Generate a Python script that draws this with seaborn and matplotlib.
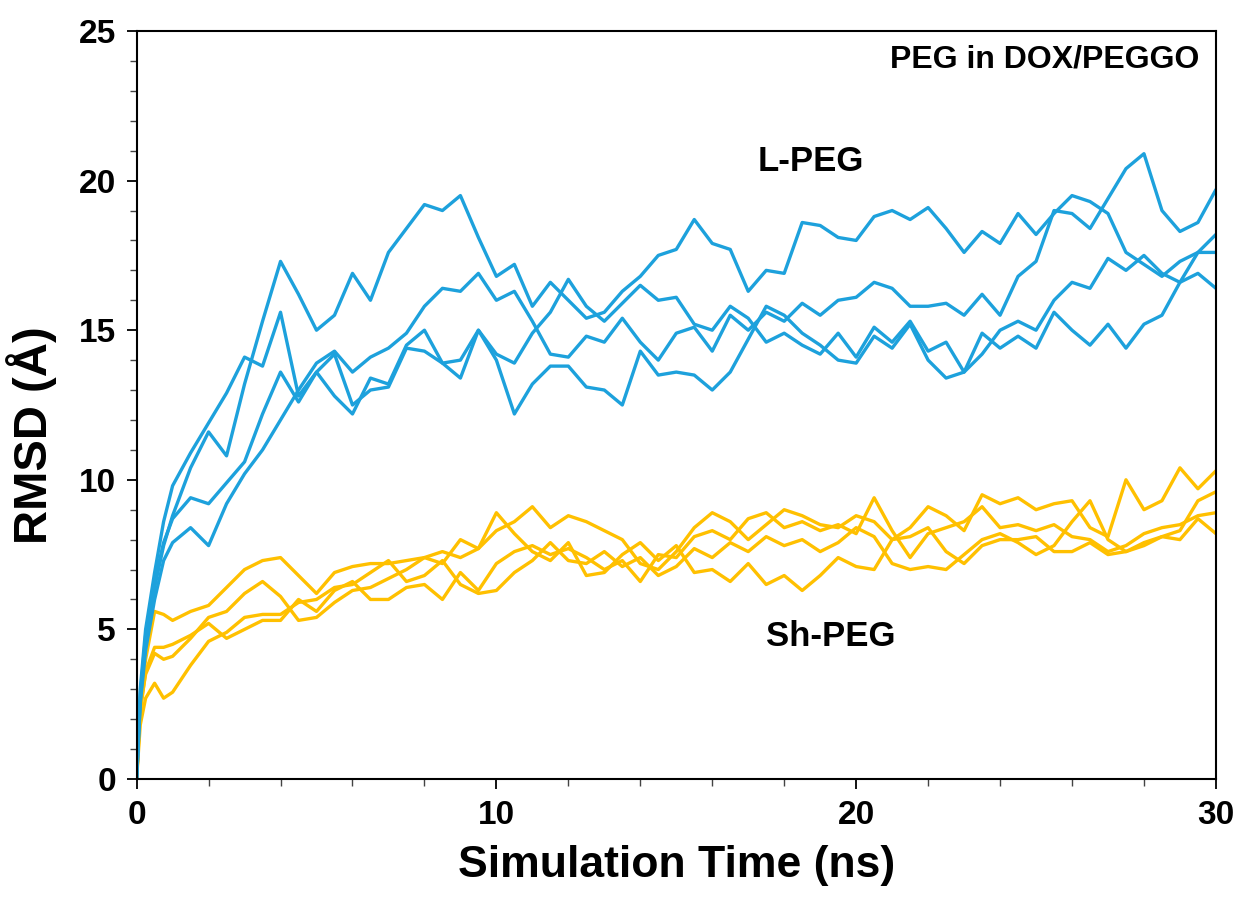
import matplotlib
matplotlib.use("Agg")
import matplotlib.pyplot as plt
from matplotlib.ticker import MultipleLocator
import numpy as np
import pandas as pd
import seaborn as sns

# ---- data -------------------------------------------------------------
time_ns = [0, 0.1, 0.25, 0.5, 0.75, 1.0,
           1.5, 2.0, 2.5, 3.0, 3.5, 4.0, 4.5, 5.0, 5.5, 6.0, 6.5, 7.0, 7.5, 8.0,
           8.5, 9.0, 9.5, 10.0, 10.5, 11.0, 11.5, 12.0, 12.5, 13.0, 13.5, 14.0,
           14.5, 15.0, 15.5, 16.0, 16.5, 17.0, 17.5, 18.0, 18.5, 19.0, 19.5, 20.0,
           20.5, 21.0, 21.5, 22.0, 22.5, 23.0, 23.5, 24.0, 24.5, 25.0, 25.5, 26.0,
           26.5, 27.0, 27.5, 28.0, 28.5, 29.0, 29.5, 30.0]

lpeg_1 = [0, 2.6, 4.6, 6.4, 7.8, 8.8,
          10.4, 11.6, 10.8, 13.2, 15.3, 17.3, 16.2, 15.0, 15.5, 16.9, 16.0, 17.6, 18.4, 19.2,
          19.0, 19.5, 18.1, 16.8, 17.2, 15.8, 16.6, 16.0, 15.4, 15.6, 16.3, 16.8,
          17.5, 17.7, 18.7, 17.9, 17.7, 16.3, 17.0, 16.9, 18.6, 18.5, 18.1, 18.0,
          18.8, 19.0, 18.7, 19.1, 18.4, 17.6, 18.3, 17.9, 18.9, 18.2, 18.9, 19.5,
          19.3, 18.9, 17.6, 17.2, 16.8, 17.3, 17.6, 18.2]
lpeg_2 = [0, 3.0, 5.0, 6.9, 8.6, 9.8,
          10.9, 11.9, 12.9, 14.1, 13.8, 15.6, 12.8, 13.6, 12.8, 12.2, 13.4, 13.2, 14.5, 15.0,
          13.9, 14.0, 15.0, 14.2, 13.9, 14.9, 15.6, 16.7, 15.8, 15.3, 15.9, 16.5,
          16.0, 16.1, 15.2, 15.0, 15.8, 15.4, 14.6, 14.9, 14.5, 14.2, 14.9, 14.1,
          15.1, 14.6, 15.3, 14.3, 14.6, 13.6, 14.9, 14.4, 14.8, 14.4, 15.6, 15.0,
          14.5, 15.2, 14.4, 15.2, 15.5, 16.6, 17.6, 17.6]
lpeg_3 = [0, 2.5, 4.3, 6.0, 7.3, 7.9,
          8.4, 7.8, 9.2, 10.2, 11.0, 12.0, 13.0, 13.9, 14.3, 13.6, 14.1, 14.4, 14.9, 15.8,
          16.4, 16.3, 16.9, 16.0, 16.3, 15.3, 14.2, 14.1, 14.8, 14.6, 15.4, 14.6,
          14.0, 14.9, 15.1, 14.3, 15.5, 15.0, 15.6, 15.3, 15.9, 15.5, 16.0, 16.1,
          16.6, 16.4, 15.8, 15.8, 15.9, 15.5, 16.2, 15.5, 16.8, 17.3, 19.0, 18.9,
          18.4, 19.4, 20.4, 20.9, 19.0, 18.3, 18.6, 19.7]
lpeg_4 = [0, 2.8, 4.8, 6.6, 7.9, 8.7,
          9.4, 9.2, 9.9, 10.6, 12.2, 13.6, 12.6, 13.6, 14.2, 12.5, 13.0, 13.1, 14.4, 14.3,
          13.9, 13.4, 15.0, 14.0, 12.2, 13.2, 13.8, 13.8, 13.1, 13.0, 12.5, 14.3,
          13.5, 13.6, 13.5, 13.0, 13.6, 14.7, 15.8, 15.5, 14.9, 14.5, 14.0, 13.9,
          14.8, 14.4, 15.2, 14.0, 13.4, 13.6, 14.2, 15.0, 15.3, 15.0, 16.0, 16.6,
          16.4, 17.4, 17.0, 17.5, 16.9, 16.6, 16.9, 16.4]

shpeg_1 = [0, 2.5, 4.0, 5.6, 5.5, 5.3,
           5.6, 5.8, 6.4, 7.0, 7.3, 7.4, 6.8, 6.2, 6.9, 7.1, 7.2, 7.2, 7.3, 7.4,
           7.6, 7.4, 7.7, 8.9, 8.2, 7.6, 7.3, 7.9, 6.8, 6.9, 7.5, 7.9,
           7.3, 7.8, 6.9, 7.0, 6.6, 7.2, 6.5, 6.8, 6.3, 6.8, 7.4, 7.1,
           7.0, 8.0, 8.1, 8.4, 7.6, 7.2, 7.8, 8.0, 8.0, 8.1, 7.6, 7.6,
           7.9, 7.5, 7.6, 7.9, 8.1, 8.0, 8.7, 8.2]
shpeg_2 = [0, 2.2, 3.6, 4.4, 4.4, 4.5,
           4.8, 5.2, 4.7, 5.0, 5.3, 5.3, 6.0, 5.6, 6.3, 6.6, 6.0, 6.0, 6.4, 6.5,
           6.0, 6.9, 6.3, 7.2, 7.6, 7.8, 7.5, 7.7, 7.4, 7.0, 7.3, 6.6,
           7.5, 7.4, 8.1, 8.3, 8.0, 8.7, 8.9, 8.4, 8.6, 8.3, 8.5, 8.2,
           9.4, 8.3, 7.4, 8.2, 8.4, 8.6, 9.1, 8.4, 8.5, 8.3, 8.5, 8.1,
           8.0, 7.6, 7.8, 8.2, 8.4, 8.5, 8.8, 8.9]
shpeg_3 = [0, 2.4, 3.5, 4.2, 4.0, 4.1,
           4.7, 5.4, 5.6, 6.2, 6.6, 6.1, 5.3, 5.4, 5.9, 6.3, 6.4, 6.7, 7.0, 7.4,
           7.2, 8.0, 7.7, 8.3, 8.6, 9.1, 8.4, 8.8, 8.6, 8.3, 8.0, 7.2,
           7.0, 7.6, 8.4, 8.9, 8.6, 8.0, 8.5, 9.0, 8.8, 8.5, 8.4, 8.8,
           8.6, 8.0, 8.4, 9.1, 8.8, 8.3, 9.5, 9.2, 9.4, 9.0, 9.2, 9.3,
           8.4, 8.1, 10.0, 9.0, 9.3, 10.4, 9.7, 10.3]
shpeg_4 = [0, 1.8, 2.7, 3.2, 2.7, 2.9,
           3.8, 4.6, 4.9, 5.4, 5.5, 5.5, 5.9, 6.0, 6.4, 6.5, 6.9, 7.3, 6.6, 6.8,
           7.3, 6.5, 6.2, 6.3, 6.9, 7.3, 7.9, 7.3, 7.2, 7.6, 7.1, 7.4,
           6.8, 7.1, 7.7, 7.4, 7.9, 7.6, 8.1, 7.8, 8.0, 7.6, 7.9, 8.4,
           8.1, 7.2, 7.0, 7.1, 7.0, 7.5, 8.0, 8.2, 7.9, 7.5, 7.8, 8.6,
           9.3, 8.0, 7.6, 7.8, 8.1, 8.3, 9.3, 9.6]

lpeg_runs = [lpeg_1, lpeg_2, lpeg_3, lpeg_4]
shpeg_runs = [shpeg_1, shpeg_2, shpeg_3, shpeg_4]

x_ticks = [0, 10, 20, 30]
y_ticks = [0, 5, 10, 15, 20, 25]

BLUE = "#1DA1DC"
ORANGE = "#FFC000"

# ---- figure -----------------------------------------------------------
sns.set_style("ticks")
plt.rcParams["font.family"] = ["Liberation Sans", "DejaVu Sans"]
plt.rcParams["font.weight"] = "bold"
plt.rcParams["text.color"] = "black"
plt.rcParams["axes.labelcolor"] = "black"
plt.rcParams["xtick.color"] = "black"
plt.rcParams["ytick.color"] = "black"

fig = plt.figure(figsize=(12.42, 9.02), dpi=100)
ax = fig.add_axes([0.110, 0.1364, 0.869, 0.8292])

rows = []
for i, run in enumerate(shpeg_runs):
    for t, v in zip(time_ns, run):
        rows.append({"time": t, "rmsd": v, "run": f"Sh{i}", "grp": "Sh-PEG"})
for i, run in enumerate(lpeg_runs):
    for t, v in zip(time_ns, run):
        rows.append({"time": t, "rmsd": v, "run": f"L{i}", "grp": "L-PEG"})
df = pd.DataFrame(rows)

palette = {f"Sh{i}": ORANGE for i in range(4)}
palette.update({f"L{i}": BLUE for i in range(4)})

sns.lineplot(data=df, x="time", y="rmsd", hue="run", palette=palette,
             estimator=None, sort=False, linewidth=2.4, legend=False, ax=ax)

ax.set_xlim(0, 30)
ax.set_ylim(0, 25)
ax.set_xticks(x_ticks)
ax.set_yticks(y_ticks)
ax.xaxis.set_minor_locator(MultipleLocator(2))
ax.yaxis.set_minor_locator(MultipleLocator(1))
ax.tick_params(axis="both", which="major", direction="out", length=7, width=1.3,
               labelsize=24, colors="black", pad=8)
ax.tick_params(axis="both", which="minor", direction="out", length=5, width=1.0,
               colors="#444444")
for lbl in ax.get_xticklabels() + ax.get_yticklabels():
    lbl.set_fontweight("bold")
    lbl.set_color("black")

for sp in ax.spines.values():
    sp.set_visible(True)
    sp.set_color("black")
    sp.set_linewidth(1.5)

ax.set_xlabel("Simulation Time (ns)", fontsize=32, fontweight="bold",
              color="black", labelpad=10)
ax.set_ylabel("RMSD (Å)", fontsize=34, fontweight="bold", color="black")
ax.yaxis.set_label_coords(-0.074, 0.46)

ax.text(29.55, 24.05, "PEG in DOX/PEGGO", fontsize=23, fontweight="bold",
        ha="right", va="center", color="black")
ax.text(18.75, 20.65, "L-PEG", fontsize=25, fontweight="bold",
        ha="center", va="center", color="black")
ax.text(19.3, 4.75, "Sh-PEG", fontsize=25, fontweight="bold",
        ha="center", va="center", color="black")

fig.savefig("out.png", dpi=100)
